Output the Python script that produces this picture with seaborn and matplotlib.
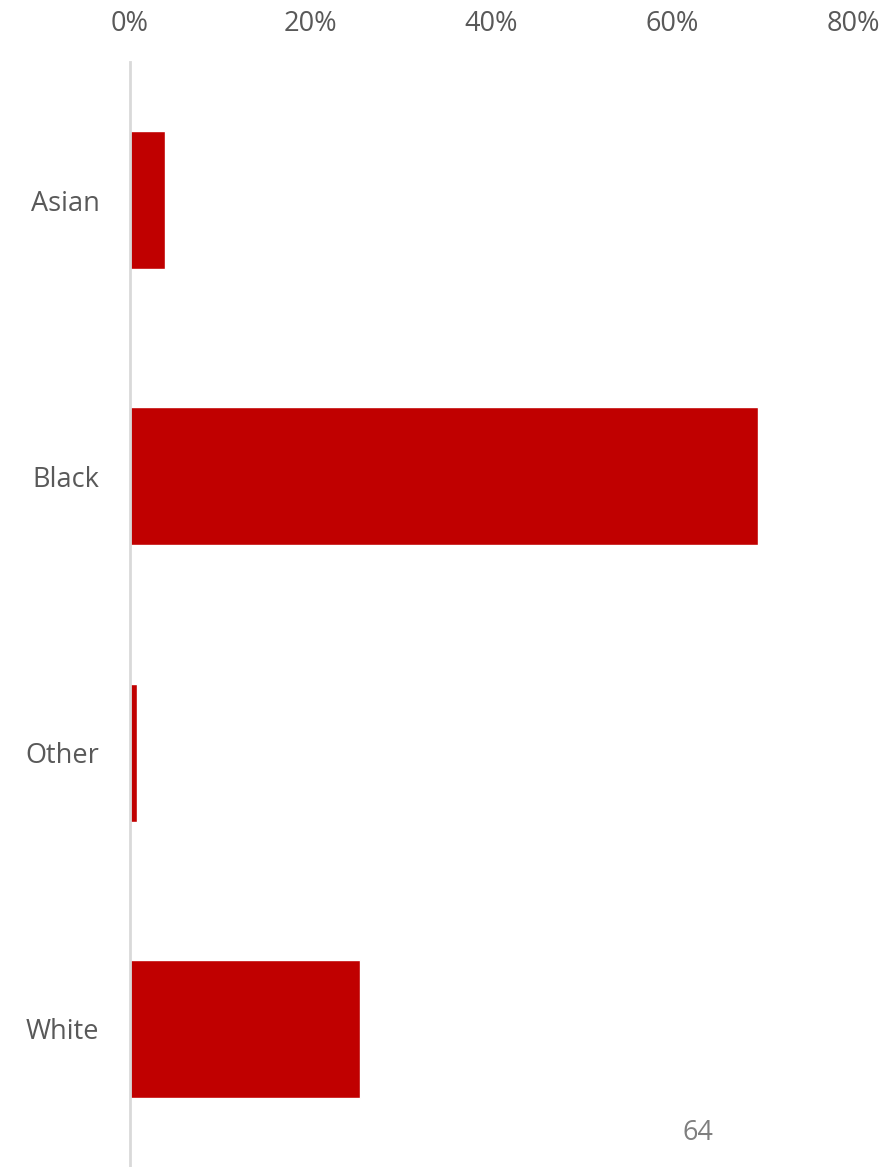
import matplotlib
matplotlib.use("Agg")
import matplotlib.pyplot as plt
import seaborn as sns
import pandas as pd
from matplotlib.ticker import PercentFormatter

# data
races = ["Asian", "Black", "Other", "White"]
shares = [0.039, 0.695, 0.008, 0.255]
x_ticks = [0.0, 0.2, 0.4, 0.6, 0.8]
page_number = "64"

df = pd.DataFrame({"race": races, "share": shares})

sns.set_theme(style="white")
plt.rcParams["font.family"] = ["Open Sans", "DejaVu Sans"]

W, H = 889, 1167
fig = plt.figure(figsize=(W / 100, H / 100), dpi=100)
ax = fig.add_axes([130 / W, 0, (853 - 130) / W, (H - 62) / H])

sns.barplot(data=df, x="share", y="race", orient="h", color="#c00000",
            width=0.5, saturation=1, ax=ax)

ax.set_xlim(0, 0.8)
ax.set_ylim(3.5, -0.5)
ax.set_xticks(x_ticks)
ax.xaxis.set_major_formatter(PercentFormatter(1.0, decimals=0))
ax.xaxis.tick_top()
ax.tick_params(axis="x", length=0, pad=17, labelsize=19.5, labelcolor="#595959")
ax.tick_params(axis="y", length=0, pad=22, labelsize=19.5, labelcolor="#595959")
ax.set_xlabel("")
ax.set_ylabel("")

for side in ["top", "right", "bottom"]:
    ax.spines[side].set_visible(False)
ax.spines["left"].set_color("#d9d9d9")
ax.spines["left"].set_linewidth(2)

fig.text(698 / W, 1 - 1133 / H, page_number, ha="center", va="center",
         fontsize=19.5, color="#7f7f7f")

fig.savefig("out.png", dpi=100)
